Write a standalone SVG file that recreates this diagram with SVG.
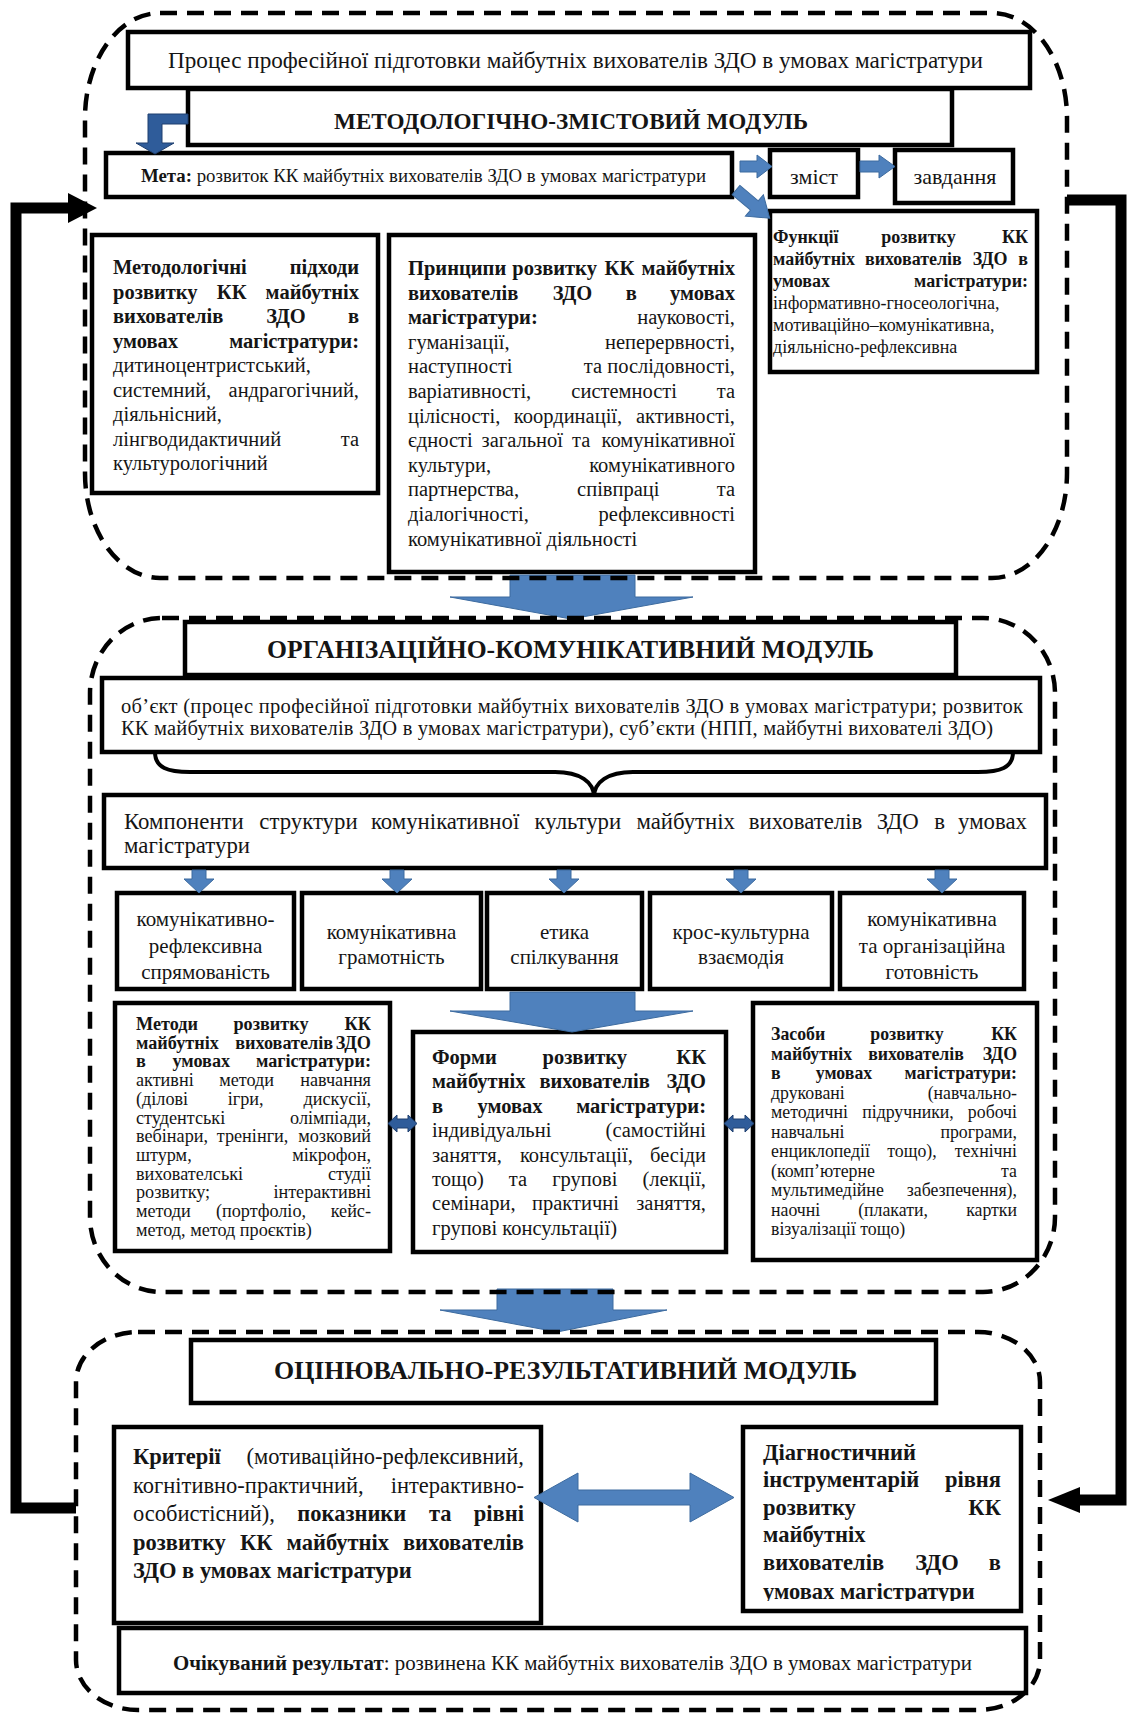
<svg xmlns="http://www.w3.org/2000/svg" width="1129" height="1713" viewBox="0 0 1129 1713">
<defs>
<style>
.s{font-family:"Liberation Serif","Times New Roman",serif;fill:#151515}
.b{font-weight:700}
.e{text-anchor:end}
.m{text-anchor:middle}
.box{fill:#fff;stroke:#000;stroke-width:4.5}
.mod{fill:none;stroke:#000;stroke-width:4.5;stroke-dasharray:17 10}
.ar{fill:#4f81bd;stroke:#3d6b9f;stroke-width:1}
.ard{fill:#2f5c9a;stroke:#1f3f6e;stroke-width:1}
.fb{fill:none;stroke:#000;stroke-width:11;stroke-linejoin:miter}
.br{fill:none;stroke:#000;stroke-width:4}
</style>
<clipPath id="diagClip"><rect x="743" y="1427" width="278" height="174"/></clipPath>
</defs>
<rect width="1129" height="1713" fill="#fff"/>

<!-- module 1 -->
<g id="node-process">
  <rect class="box" x="128" y="32" width="902" height="56"/>
  <text class="s" x="168" y="68" font-size="23" textLength="815" lengthAdjust="spacingAndGlyphs">Процес професійної підготовки майбутніх вихователів ЗДО в умовах магістратури</text>
</g>
<g id="node-module1-title">
  <rect class="box" x="188" y="89" width="764" height="56"/>
  <text class="s b" x="334" y="129" font-size="23" textLength="474" lengthAdjust="spacingAndGlyphs">МЕТОДОЛОГІЧНО-ЗМІСТОВИЙ МОДУЛЬ</text>
</g>
<g id="node-meta">
  <rect class="box" x="106" y="153" width="626" height="44"/>
  <text class="s" x="141" y="182" font-size="18.5" textLength="565" lengthAdjust="spacingAndGlyphs"><tspan class="b">Мета:</tspan> розвиток КК майбутніх вихователів ЗДО в умовах магістратури</text>
</g>
<g id="node-zmist">
  <rect class="box" x="770" y="150" width="88" height="47"/>
  <text class="s m" x="814" y="184" font-size="22">зміст</text>
</g>
<g id="node-zavdannia">
  <rect class="box" x="895" y="150" width="118" height="53"/>
  <text class="s m" x="955" y="184" font-size="22">завдання</text>
</g>
<g id="node-funktsii">
  <rect class="box" x="770" y="211" width="267" height="161"/>
  <g class="s" font-size="18">
    <text y="243"><tspan class="b" x="773">Функції</tspan><tspan class="b m" x="918.5">розвитку</tspan><tspan class="b e" x="1028">КК</tspan></text>
    <text y="265"><tspan class="b" x="773">майбутніх</tspan><tspan class="b m" x="913.4">вихователів</tspan><tspan class="b m" x="990.2">ЗДО</tspan><tspan class="b e" x="1028">в</tspan></text>
    <text y="287"><tspan class="b" x="773">умовах</tspan><tspan class="b e" x="1028">магістратури:</tspan></text>
    <text x="773" y="309">інформативно-гносеологічна,</text>
    <text x="773" y="331">мотиваційно–комунікативна,</text>
    <text x="773" y="353">діяльнісно-рефлексивна</text>
  </g>
</g>
<g id="node-pidkhody">
  <rect class="box" x="92" y="235" width="286" height="258"/>
  <g class="s" font-size="20.5">
    <text y="274"><tspan class="b" x="113">Методологічні</tspan><tspan class="b e" x="359">підходи</tspan></text>
    <text y="298.5"><tspan class="b" x="113">розвитку</tspan><tspan class="b m" x="231.7">КК</tspan><tspan class="b e" x="359">майбутніх</tspan></text>
    <text y="323"><tspan class="b" x="113">вихователів</tspan><tspan class="b m" x="286">ЗДО</tspan><tspan class="b e" x="359">в</tspan></text>
    <text y="347.5"><tspan class="b" x="113">умовах</tspan><tspan class="b e" x="359">магістратури:</tspan></text>
    <text x="113" y="372">дитиноцентристський,</text>
    <text y="396.5"><tspan x="113">системний,</tspan><tspan class="e" x="359">андрагогічний,</tspan></text>
    <text x="113" y="421">діяльнісний,</text>
    <text y="445.5"><tspan x="113">лінгводидактичний</tspan><tspan class="e" x="359">та</tspan></text>
    <text x="113" y="470">культурологічний</text>
  </g>
</g>
<g id="node-pryntsypy">
  <rect class="box" x="389" y="235" width="366" height="337"/>
  <g class="s" font-size="20.5">
    <text y="275"><tspan class="b" x="408">Принципи</tspan><tspan class="b m" x="554.6">розвитку</tspan><tspan class="b m" x="619.4">КК</tspan><tspan class="b e" x="735">майбутніх</tspan></text>
    <text y="299.6"><tspan class="b" x="408">вихователів</tspan><tspan class="b m" x="572.5">ЗДО</tspan><tspan class="b m" x="631.4">в</tspan><tspan class="b e" x="735">умовах</tspan></text>
    <text y="324.2"><tspan class="b" x="408">магістратури:</tspan><tspan class="e" x="735">науковості,</tspan></text>
    <text y="348.8"><tspan x="408">гуманізації,</tspan><tspan class="e" x="735">неперервності,</tspan></text>
    <text y="373.4"><tspan x="408">наступності</tspan><tspan class="e" x="735">та послідовності,</tspan></text>
    <text y="398"><tspan x="408">варіативності,</tspan><tspan class="m" x="624.2">системності</tspan><tspan class="e" x="735">та</tspan></text>
    <text y="422.6"><tspan x="408">цілісності,</tspan><tspan class="m" x="568">координації,</tspan><tspan class="e" x="735">активності,</tspan></text>
    <text y="447.2"><tspan x="408">єдності</tspan><tspan class="m" x="522.3">загальної</tspan><tspan class="m" x="581.1">та</tspan><tspan class="e" x="735">комунікативної</tspan></text>
    <text y="471.8"><tspan x="408">культури,</tspan><tspan class="e" x="735">комунікативного</tspan></text>
    <text y="496.4"><tspan x="408">партнерства,</tspan><tspan class="m" x="618.3">співпраці</tspan><tspan class="e" x="735">та</tspan></text>
    <text y="521"><tspan x="408">діалогічності,</tspan><tspan class="e" x="735">рефлексивності</tspan></text>
    <text x="408" y="545.6">комунікативної діяльності</text>
  </g>
</g>

<!-- module 2 -->
<g id="node-module2-title">
  <rect class="box" x="185" y="622" width="771" height="53"/>
  <text class="s b" x="267" y="658" font-size="25" textLength="607" lengthAdjust="spacingAndGlyphs">ОРГАНІЗАЦІЙНО-КОМУНІКАТИВНИЙ МОДУЛЬ</text>
</g>
<g id="node-obiekt">
  <rect class="box" x="102" y="678" width="938" height="74"/>
  <g class="s" font-size="20.5">
    <text x="121" y="713" textLength="902" lengthAdjust="spacing">об’єкт (процес професійної підготовки майбутніх вихователів ЗДО в умовах магістратури; розвиток</text>
    <text x="121" y="735" textLength="872" lengthAdjust="spacing">КК майбутніх вихователів ЗДО в умовах магістратури), суб’єкти (НПП, майбутні вихователі ЗДО)</text>
  </g>
</g>
<g id="node-komponenty">
  <rect class="box" x="104" y="795" width="942" height="73"/>
  <g class="s" font-size="22.8">
    <text y="829"><tspan x="124">Компоненти</tspan><tspan x="259.3">структури</tspan><tspan x="370.9">комунікативної</tspan><tspan x="534.5">культури</tspan><tspan x="636.4">майбутніх</tspan><tspan x="748.8">вихователів</tspan><tspan x="876.7">ЗДО</tspan><tspan x="934.2">в</tspan><tspan class="e" x="1027">умовах</tspan></text>
    <text x="124" y="853">магістратури</text>
  </g>
</g>
<g id="node-component-1">
  <rect class="box" x="117" y="893" width="177" height="96"/>
  <g class="s m" font-size="21"><text x="205.5" y="926">комунікативно-</text><text x="205.5" y="952.5">рефлексивна</text><text x="205.5" y="979">спрямованість</text></g>
</g>
<g id="node-component-2">
  <rect class="box" x="302" y="893" width="179" height="96"/>
  <g class="s m" font-size="21"><text x="391.5" y="939">комунікативна</text><text x="391.5" y="964">грамотність</text></g>
</g>
<g id="node-component-3">
  <rect class="box" x="487" y="893" width="155" height="96"/>
  <g class="s m" font-size="21"><text x="564.5" y="939">етика</text><text x="564.5" y="964">спілкування</text></g>
</g>
<g id="node-component-4">
  <rect class="box" x="650" y="893" width="182" height="96"/>
  <g class="s m" font-size="21"><text x="741" y="939">крос-культурна</text><text x="741" y="964">взаємодія</text></g>
</g>
<g id="node-component-5">
  <rect class="box" x="840" y="893" width="184" height="96"/>
  <g class="s m" font-size="21"><text x="932" y="926">комунікативна</text><text x="932" y="952.5">та організаційна</text><text x="932" y="979">готовність</text></g>
</g>
<g id="node-metody">
  <rect class="box" x="115" y="1003" width="275" height="248"/>
  <g class="s" font-size="18.2">
    <text y="1030"><tspan class="b" x="136">Методи</tspan><tspan class="b m" x="271">розвитку</tspan><tspan class="b e" x="371">КК</tspan></text>
    <text y="1048.7"><tspan class="b" x="136">майбутніх</tspan><tspan class="b m" x="284.2">вихователів</tspan><tspan class="b e" x="371">ЗДО</tspan></text>
    <text y="1067.4"><tspan class="b" x="136">в</tspan><tspan class="b m" x="201.3">умовах</tspan><tspan class="b e" x="371">магістратури:</tspan></text>
    <text y="1086.1"><tspan x="136">активні</tspan><tspan class="m" x="246.6">методи</tspan><tspan class="e" x="371">навчання</tspan></text>
    <text y="1104.8"><tspan x="136">(ділові</tspan><tspan class="m" x="245.7">ігри,</tspan><tspan class="e" x="371">дискусії,</tspan></text>
    <text y="1123.5"><tspan x="136">студентські</tspan><tspan class="e" x="371">олімпіади,</tspan></text>
    <text y="1142.2"><tspan x="136">вебінари,</tspan><tspan class="m" x="252.6">тренінги,</tspan><tspan class="e" x="371">мозковий</tspan></text>
    <text y="1160.9"><tspan x="136">штурм,</tspan><tspan class="e" x="371">мікрофон,</tspan></text>
    <text y="1179.6"><tspan x="136">вихователські</tspan><tspan class="e" x="371">студії</tspan></text>
    <text y="1198.3"><tspan x="136">розвитку;</tspan><tspan class="e" x="371">інтерактивні</tspan></text>
    <text y="1217"><tspan x="136">методи</tspan><tspan class="m" x="261">(портфоліо,</tspan><tspan class="e" x="371">кейс-</tspan></text>
    <text x="136" y="1235.7">метод, метод проєктів)</text>
  </g>
</g>
<g id="node-formy">
  <rect class="box" x="413" y="1032" width="313" height="220"/>
  <g class="s" font-size="20.5">
    <text y="1064"><tspan class="b" x="432">Форми</tspan><tspan class="b m" x="584.8">розвитку</tspan><tspan class="b e" x="706">КК</tspan></text>
    <text y="1088.4"><tspan class="b" x="432">майбутніх</tspan><tspan class="b m" x="594.6">вихователів</tspan><tspan class="b e" x="706">ЗДО</tspan></text>
    <text y="1112.8"><tspan class="b" x="432">в</tspan><tspan class="b m" x="510.1">умовах</tspan><tspan class="b e" x="706">магістратури:</tspan></text>
    <text y="1137.2"><tspan x="432">індивідуальні</tspan><tspan class="e" x="706">(самостійні</tspan></text>
    <text y="1161.6"><tspan x="432">заняття,</tspan><tspan class="m" x="576.4">консультації,</tspan><tspan class="e" x="706">бесіди</tspan></text>
    <text y="1186"><tspan x="432">тощо)</tspan><tspan class="m" x="518">та</tspan><tspan class="m" x="584.8">групові</tspan><tspan class="e" x="706">(лекції,</tspan></text>
    <text y="1210.4"><tspan x="432">семінари,</tspan><tspan class="m" x="575.4">практичні</tspan><tspan class="e" x="706">заняття,</tspan></text>
    <text x="432" y="1234.8">групові консультації)</text>
  </g>
</g>
<g id="node-zasoby">
  <rect class="box" x="753" y="1003" width="284" height="257"/>
  <g class="s" font-size="17.8">
    <text y="1040"><tspan class="b" x="771">Засоби</tspan><tspan class="b m" x="907">розвитку</tspan><tspan class="b e" x="1017">КК</tspan></text>
    <text y="1059.5"><tspan class="b" x="771">майбутніх</tspan><tspan class="b m" x="916">вихователів</tspan><tspan class="b e" x="1017">ЗДО</tspan></text>
    <text y="1079"><tspan class="b" x="771">в</tspan><tspan class="b m" x="844">умовах</tspan><tspan class="b e" x="1017">магістратури:</tspan></text>
    <text y="1098.5"><tspan x="771">друковані</tspan><tspan class="e" x="1017">(навчально-</tspan></text>
    <text y="1118"><tspan x="771">методичні</tspan><tspan class="m" x="908">підручники,</tspan><tspan class="e" x="1017">робочі</tspan></text>
    <text y="1137.5"><tspan x="771">навчальні</tspan><tspan class="e" x="1017">програми,</tspan></text>
    <text y="1157"><tspan x="771">енциклопедії</tspan><tspan class="m" x="912">тощо),</tspan><tspan class="e" x="1017">технічні</tspan></text>
    <text y="1176.5"><tspan x="771">(комп’ютерне</tspan><tspan class="e" x="1017">та</tspan></text>
    <text y="1196"><tspan x="771">мультимедійне</tspan><tspan class="e" x="1017">забезпечення),</tspan></text>
    <text y="1215.5"><tspan x="771">наочні</tspan><tspan class="m" x="893">(плакати,</tspan><tspan class="e" x="1017">картки</tspan></text>
    <text x="771" y="1235">візуалізації тощо)</text>
  </g>
</g>

<!-- module 3 -->
<g id="node-module3-title">
  <rect class="box" x="191" y="1340" width="745" height="63"/>
  <text class="s b" x="274" y="1379" font-size="25" textLength="583" lengthAdjust="spacingAndGlyphs">ОЦІНЮВАЛЬНО-РЕЗУЛЬТАТИВНИЙ МОДУЛЬ</text>
</g>
<g id="node-kryterii">
  <rect class="box" x="114" y="1427" width="427" height="196"/>
  <g class="s" font-size="22.5">
    <text y="1464"><tspan class="b" x="133">Критерії</tspan><tspan class="e" x="524">(мотиваційно-рефлексивний,</tspan></text>
    <text y="1492.5"><tspan x="133">когнітивно-практичний,</tspan><tspan class="e" x="524">інтерактивно-</tspan></text>
    <text y="1521"><tspan x="133">особистісний),</tspan><tspan class="b m" x="351.8">показники</tspan><tspan class="b m" x="440.2">та</tspan><tspan class="b e" x="524">рівні</tspan></text>
    <text y="1549.5"><tspan class="b" x="133">розвитку</tspan><tspan class="b m" x="256.2">КК</tspan><tspan class="b m" x="337.8">майбутніх</tspan><tspan class="b e" x="524">вихователів</tspan></text>
    <text class="b" x="133" y="1578">ЗДО в умовах магістратури</text>
  </g>
</g>
<g id="node-diagnostyka">
  <rect class="box" x="743" y="1427" width="278" height="184"/>
  <g class="s b" font-size="22.5">
    <text x="763" y="1460">Діагностичний</text>
    <text y="1487.4"><tspan x="763">інструментарій</tspan><tspan class="e" x="1001">рівня</tspan></text>
    <text y="1514.8"><tspan x="763">розвитку</tspan><tspan class="e" x="1001">КК</tspan></text>
    <text x="763" y="1542.2">майбутніх</text>
    <text y="1569.6"><tspan x="763">вихователів</tspan><tspan class="m" x="937">ЗДО</tspan><tspan class="e" x="1001">в</tspan></text>
    <text x="763" y="1599" clip-path="url(#diagClip)">умовах магістратури</text>
  </g>
</g>
<g id="node-rezultat">
  <rect class="box" x="119" y="1628" width="907" height="65"/>
  <text class="s" x="173" y="1670" font-size="20.5" textLength="799" lengthAdjust="spacingAndGlyphs"><tspan class="b">Очікуваний результат</tspan>: розвинена КК майбутніх вихователів ЗДО в умовах магістратури</text>
</g>

<!-- connectors -->
<g id="connectors">
  <!-- feedback loop, left side -->
  <path class="fb" d="M76,1508 H16 V208 H70"/>
  <polygon points="68,193 97,208 68,223" fill="#000"/>
  <!-- feedback loop, right side -->
  <path class="fb" d="M1067,200 H1121 V1500 H1078"/>
  <polygon points="1080,1487 1048,1500 1080,1513" fill="#000"/>
  <!-- module 1 internal arrows -->
  <path class="ard" d="M188,114 L148,114 L148,143 L136,143 L155,154 L174,143 L162,143 L162,124 L188,124 Z"/>
  <path class="ar" d="M740,161 L757,161 L757,155 L772,166.5 L757,178 L757,172 L740,172 Z"/>
  <path class="ar" d="M860,161 L879,161 L879,155 L895,166.5 L879,178 L879,172 L860,172 Z"/>
  <path class="ar" transform="translate(736,190) rotate(40)" d="M0,-6 L24,-6 L24,-14 L44,0 L24,14 L24,6 L0,6 Z"/>
  <!-- module to module arrows -->
  <path class="ar" d="M510,575 L635,575 L635,597 L693,597 L571,619 L450,597 L510,597 Z"/>
  <path class="ar" d="M510,992 L635,992 L635,1011 L693,1011 L572,1032 L450,1011 L510,1011 Z"/>
  <path class="ar" d="M497,1289 L613,1289 L613,1310 L667,1310 L557,1332 L440,1310 L497,1310 Z"/>
  <!-- brace from object box to components -->
  <path class="br" d="M155,752 C155,768 168,772 190,772 L555,772 C580,772 594,782 594,797 C594,782 608,772 633,772 L978,772 C1000,772 1013,768 1013,752"/>
  <!-- arrows to the five components -->
  <g class="ar">
    <path transform="translate(199,0)" d="M-7,870 L7,870 L7,879 L15,879 L0,893 L-15,879 L-7,879 Z"/>
    <path transform="translate(397,0)" d="M-7,870 L7,870 L7,879 L15,879 L0,893 L-15,879 L-7,879 Z"/>
    <path transform="translate(564,0)" d="M-7,870 L7,870 L7,879 L15,879 L0,893 L-15,879 L-7,879 Z"/>
    <path transform="translate(741,0)" d="M-7,870 L7,870 L7,879 L15,879 L0,893 L-15,879 L-7,879 Z"/>
    <path transform="translate(942,0)" d="M-7,870 L7,870 L7,879 L15,879 L0,893 L-15,879 L-7,879 Z"/>
  </g>
  <!-- small two-way arrows between methods, forms and means -->
  <path class="ard" d="M388,1123.5 L397,1115 L397,1119 L408,1119 L408,1115 L417,1123.5 L408,1132 L408,1128 L397,1128 L397,1132 Z"/>
  <path class="ard" d="M724,1123.5 L733,1115 L733,1119 L745,1119 L745,1115 L754,1123.5 L745,1132 L745,1128 L733,1128 L733,1132 Z"/>
  <!-- two-way arrow between criteria and diagnostics -->
  <path class="ar" stroke="#2f5c9a" stroke-width="2" d="M534,1497.5 L578,1473 L578,1490 L690,1490 L690,1473 L734,1497.5 L690,1522 L690,1505 L578,1505 L578,1522 Z"/>
</g>

<!-- module containers -->
<g id="module-1"><rect class="mod" x="85" y="13" width="982" height="565" rx="75" ry="105"/></g>
<g id="module-2"><rect class="mod" x="90" y="618" width="965" height="674" rx="72" ry="75"/></g>
<g id="module-3"><rect class="mod" x="76" y="1332" width="964" height="378" rx="62" ry="50"/></g>
</svg>
